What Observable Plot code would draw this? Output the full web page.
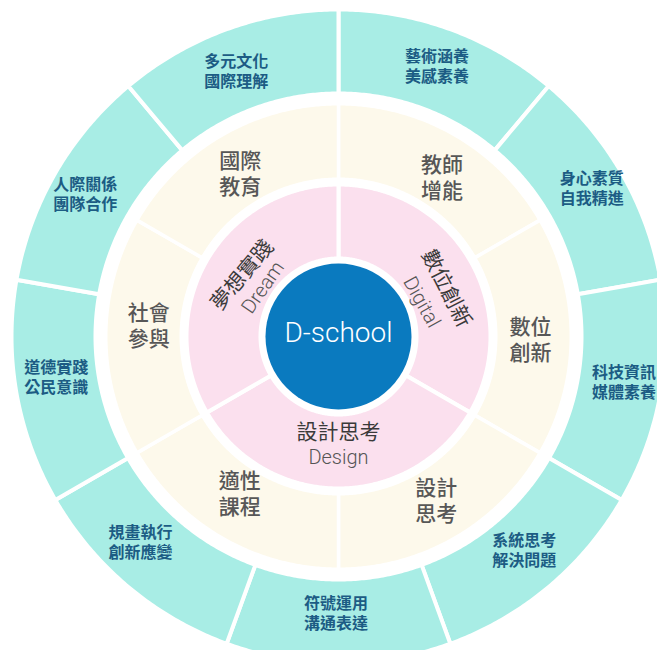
<!DOCTYPE html>
<html lang="zh-TW"><head><meta charset="utf-8">
<script src="https://cdn.jsdelivr.net/npm/d3@7"></script>
<script src="https://cdn.jsdelivr.net/npm/@observablehq/plot@0.6"></script>
<style>body{margin:0;background:#fff}</style>
</head><body><div id="chart"></div>
<script>
// ---- data ----
const centerLabel = "D-school";
const coreZh = ["數位創新", "設計思考", "夢想實踐"];
const coreEn = ["Digital", "Design", "Dream"];
const middleLabels = ["教師\n增能", "數位\n創新", "設計\n思考", "適性\n課程", "社會\n參與", "國際\n教育"];
const outerLabels = ["藝術涵養\n美感素養", "身心素質\n自我精進", "科技資訊\n媒體素養", "系統思考\n解決問題",
  "符號運用\n溝通表達", "規畫執行\n創新應變", "道德實踐\n公民意識", "人際關係\n團隊合作", "多元文化\n國際理解"];

// ---- layout (pixels / degrees clockwise from 12 o'clock) ----
const W = 657, H = 650, CX = 338, CY = 336;
const R = {center: 73, core: [80, 150], middle: [159, 231], outer: [245, 325]};
// label anchor [radius, angle] per segment
const outerTextLayout = [[288, 20], [294, 59.5], [289, 99], [283, 139], [276, 180.5], [285, 224], [285, 262], [291, 299.5], [285, 339]];
const middleTextLayout = [[190, 33], [192, 90.5], [190, 149], [185, 212.3], [190, 273.5], [191, 329]];
const coreTextLayout = [
  {zh: [118, 66, 63], en: [90, 67.5, 61]},
  {zh: [96, 180, 0], en: [121, 180, 0]},
  {zh: [114, 302.5, -50], en: [90, 303, -55]}
];
const colors = {center: "#0a7abf", core: "#fbe0ee", middle: "#fdf9eb", outer: "#a8ede5"};

// polar helpers: azimuthal equidistant projection centered on the pole, 1 degree = 2px
const lon = t => 180 - t;
const lat = r => 90 - r / 2;
const projection = d3.geoAzimuthalEquidistant().rotate([0, -90]).translate([CX, CY]).scale(360 / Math.PI);

function sector(a0, a1, r0, r1) {
  const ring = [];
  const n = Math.ceil((a1 - a0) / 0.5);
  for (let i = 0; i <= n; i++) ring.push([lon(a0 + (a1 - a0) * i / n), lat(r1)]);
  for (let i = n; i >= 0; i--) ring.push([lon(a0 + (a1 - a0) * i / n), lat(r0)]);
  ring.push(ring[0]);
  return {type: "Polygon", coordinates: [ring]};
}
function ringFeatures(labels, [r0, r1], sw, layout) {
  const step = 360 / labels.length;
  return labels.map((label, i) => ({
    type: "Feature",
    properties: {label, r: layout ? layout[i][0] : 0, a: layout ? layout[i][1] : step * (i + 0.5)},
    geometry: sector(step * i, step * (i + 1), r0 - sw / 2, r1 + sw / 2)
  }));
}
const outerF = ringFeatures(outerLabels, R.outer, 4, outerTextLayout);
const middleF = ringFeatures(middleLabels, R.middle, 3.5, middleTextLayout);
const coreF = ringFeatures(coreZh, R.core, 4);

const cjk = "'Liberation Sans', 'Noto Sans CJK TC', sans-serif";
const hand = "Roboto, Lato, 'Open Sans', sans-serif";

const coreText = coreZh.map((t, i) => ({t, r: coreTextLayout[i].zh[0], a: coreTextLayout[i].zh[1], rot: coreTextLayout[i].zh[2]}));
const coreEnText = coreEn.map((t, i) => ({t, r: coreTextLayout[i].en[0], a: coreTextLayout[i].en[1], rot: coreTextLayout[i].en[2]}));

const chart = Plot.plot({
  width: W, height: H, margin: 0,
  projection,
  marks: [
    Plot.geo(outerF, {fill: colors.outer, stroke: "white", strokeWidth: 4}),
    Plot.geo(middleF, {fill: colors.middle, stroke: "white", strokeWidth: 3.5}),
    Plot.geo(coreF, {fill: colors.core, stroke: "white", strokeWidth: 4}),
    Plot.dot([centerLabel], {x: 0, y: 90, r: R.center, fill: colors.center, stroke: "none"}),
    Plot.text(outerF, {x: d => lon(d.properties.a), y: d => lat(d.properties.r), text: d => d.properties.label,
      fontSize: 16, fontWeight: 600, fill: "#1c5c84", lineHeight: 1.25, fontFamily: cjk}),
    Plot.text(middleF, {x: d => lon(d.properties.a), y: d => lat(d.properties.r), text: d => d.properties.label,
      fontSize: 21, fontWeight: 500, fill: "#575757", lineHeight: 1.24, fontFamily: cjk}),
    Plot.text(coreText, {x: d => lon(d.a), y: d => lat(d.r), text: "t", rotate: "rot",
      fontSize: 21, fill: "#3a3a3a", fontFamily: cjk}),
    Plot.text(coreEnText, {x: d => lon(d.a), y: d => lat(d.r), text: "t", rotate: "rot",
      fontSize: 20, fontWeight: 300, fill: "#555", fontFamily: hand}),
    Plot.text([centerLabel], {x: 0, y: 90, dy: -3, text: d => d, fontSize: 28, fontWeight: 300,
      fill: "white", fontFamily: hand})
  ]
});
document.getElementById("chart").appendChild(chart);
</script>
</body></html>
